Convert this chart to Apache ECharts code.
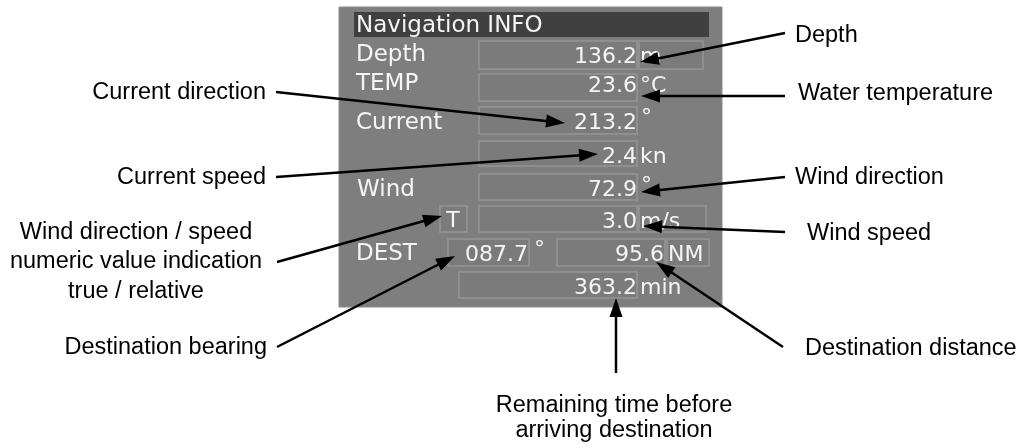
<!DOCTYPE html>
<html><head><meta charset="utf-8">
<script src="https://cdn.jsdelivr.net/npm/echarts@6/dist/echarts.min.js"></script>
<style>html,body{margin:0;padding:0;background:#fff}#c{width:1025px;height:448px}</style>
</head><body><div id="c"></div><script>
// ---- data ----
const panelTitle = 'Navigation INFO';
const fieldLabels = ['Depth', 'TEMP', 'Current', 'Wind', 'DEST'];
const readings = ['136.2', '23.6', '213.2', '2.4', '72.9', '3.0', '087.7', '95.6', '363.2'];
const units = ['m', '°C', '°', 'kn', '°', 'm/s', '°', 'NM', 'min'];
const windMode = ['T'];
const calloutsLeft = ['Current direction', 'Current speed', 'Wind direction / speed\nnumeric value indication\ntrue / relative', 'Destination bearing'];
const calloutsRight = ['Depth', 'Water temperature', 'Wind direction', 'Wind speed', 'Destination distance'];
const calloutsBottom = ['Remaining time before\narriving destination'];

// ---- layout (positions in the hidden axes' units) ----
const W = 1025, H = 448;
const panelRect = [339, 7, 722, 307];
const titleRect = [354, 12, 709, 37];
const titlePos = [356, 26];
const labelPos = [[356, 55], [356, 84], [356, 123], [357, 190], [356, 254]];
const boxRects = [[478, 40, 638, 70], [638, 40, 704, 70], [478, 73, 638, 102], [478, 106, 638, 135],
  [478, 140, 638, 167], [478, 173, 638, 201], [439, 205, 468, 233], [478, 205, 638, 233], [638, 205, 707, 233],
  [447, 238, 530, 267], [556, 238, 666, 267], [666, 238, 710, 267], [458, 271, 638, 299]];
const readingPos = [[637, 57], [637, 86], [637, 123], [637, 157], [637, 190], [637, 222], [528, 255], [664, 255], [637, 288]];
const unitPos = [[640, 57], [640, 86], [641, 118], [640, 157], [641, 186], [640, 222], [534, 250], [668, 255], [640, 288]];
const modePos = [453, 221];
const leftTextPos = [[266, 93], [266, 178], [136, 262], [267, 348]];
const leftAlign = ['right', 'right', 'center', 'right'];
const rightTextPos = [[795, 36], [798, 94], [795, 178], [807, 234], [805, 349]];
const bottomTextPos = [[614, 418]];
const arrowsFrom = [[276, 92], [276, 177], [277, 262], [277, 347], [785, 33], [785, 96], [785, 177], [785, 232], [783, 347], [616, 373]];
const arrowsTo = [[565, 123], [598, 154], [442, 216], [455, 256], [640, 62], [641, 96], [641, 192], [643, 226], [656, 262], [616, 298]];

const PANEL_FONT = '"DejaVu Sans", sans-serif';
const NOTE_FONT = '"Liberation Sans", Arial, sans-serif';

function rectOf(api, r) {
  const a = api.coord([r[0], r[1]]), b = api.coord([r[2], r[3]]);
  return { x: a[0], y: a[1], width: b[0] - a[0], height: b[1] - a[1] };
}

const panelItems = [];
panelItems.push({ kind: 'panel' });
panelItems.push({ kind: 'title' });
boxRects.forEach((r, i) => panelItems.push({ kind: 'box', i }));
fieldLabels.forEach((t, i) => panelItems.push({ kind: 'label', i }));
readings.forEach((t, i) => panelItems.push({ kind: 'reading', i }));
units.forEach((t, i) => panelItems.push({ kind: 'unit', i }));
panelItems.push({ kind: 'mode' });

function txt(api, pos, text, size, align, family, color, lh) {
  const p = api.coord(pos);
  return { type: 'text', style: { text, x: p[0], y: p[1], fill: color, font: size + 'px ' + family, align, verticalAlign: 'middle', lineHeight: lh || size } };
}

const option = {
  backgroundColor: '#ffffff',
  animation: false,
  grid: { left: 0, right: 0, top: 0, bottom: 0 },
  xAxis: { type: 'value', min: 0, max: W, show: false },
  yAxis: { type: 'value', min: 0, max: H, inverse: true, show: false },
  series: [
    {
      type: 'custom', coordinateSystem: 'cartesian2d', silent: true,
      data: panelItems.map((d, i) => [i, 0]),
      renderItem: function (params, api) {
        const it = panelItems[params.dataIndex];
        if (it.kind === 'panel') return { type: 'rect', shape: rectOf(api, panelRect), style: { fill: '#7e7e7e', stroke: '#8a8a8a', lineWidth: 1 } };
        if (it.kind === 'title') return { type: 'group', children: [
          { type: 'rect', shape: rectOf(api, titleRect), style: { fill: '#404040' } },
          txt(api, titlePos, panelTitle, 23, 'left', PANEL_FONT, '#f5f5f5')] };
        if (it.kind === 'box') { const s = rectOf(api, boxRects[it.i]); s.x += 1; s.y += 1; s.width -= 2; s.height -= 2;
          return { type: 'rect', shape: s, style: { fill: '#7b7b7b', stroke: '#8f8f8f', lineWidth: 2 } }; }
        if (it.kind === 'label') return txt(api, labelPos[it.i], fieldLabels[it.i], 23, 'left', PANEL_FONT, '#f5f5f5');
        if (it.kind === 'reading') return txt(api, readingPos[it.i], readings[it.i], 22, 'right', PANEL_FONT, '#f5f5f5');
        if (it.kind === 'unit') return txt(api, unitPos[it.i], units[it.i], 22, 'left', PANEL_FONT, '#f5f5f5');
        if (it.kind === 'mode') return txt(api, modePos, windMode[0], 22, 'center', PANEL_FONT, '#f5f5f5');
      }
    },
    {
      type: 'custom', coordinateSystem: 'cartesian2d', silent: true,
      data: calloutsLeft.concat(calloutsRight, calloutsBottom).map((t, i) => [i, 0]),
      renderItem: function (params, api) {
        const i = params.dataIndex;
        const nL = calloutsLeft.length, nR = calloutsRight.length;
        if (i < nL) return txt(api, leftTextPos[i], calloutsLeft[i], 23.5, leftAlign[i], NOTE_FONT, '#000', i === 2 ? 29.5 : 23.5);
        if (i < nL + nR) return txt(api, rightTextPos[i - nL], calloutsRight[i - nL], 23.5, 'left', NOTE_FONT, '#000');
        return txt(api, bottomTextPos[0], calloutsBottom[0], 23.5, 'center', NOTE_FONT, '#000', 25.5);
      }
    },
    {
      type: 'custom', coordinateSystem: 'cartesian2d', silent: true,
      data: arrowsFrom.map((f, i) => [i, 0]),
      renderItem: function (params, api) {
        const i = params.dataIndex;
        const a = api.coord(arrowsFrom[i]), b = api.coord(arrowsTo[i]);
        const dx = b[0] - a[0], dy = b[1] - a[1], len = Math.hypot(dx, dy);
        const ux = dx / len, uy = dy / len, hl = 19, hw = 6.5;
        const bx = b[0] - ux * hl, by = b[1] - uy * hl;
        return { type: 'group', children: [
          { type: 'line', shape: { x1: a[0], y1: a[1], x2: bx + ux * 2, y2: by + uy * 2 }, style: { stroke: '#000', lineWidth: 2.5 } },
          { type: 'polygon', shape: { points: [[b[0], b[1]], [bx - uy * hw, by + ux * hw], [bx + uy * hw, by - ux * hw]] }, style: { fill: '#000' } }
        ] };
      }
    }
  ]
};
const chart = echarts.init(document.getElementById('c'), null, { renderer: 'canvas' });
chart.setOption(option);
</script></body></html>
